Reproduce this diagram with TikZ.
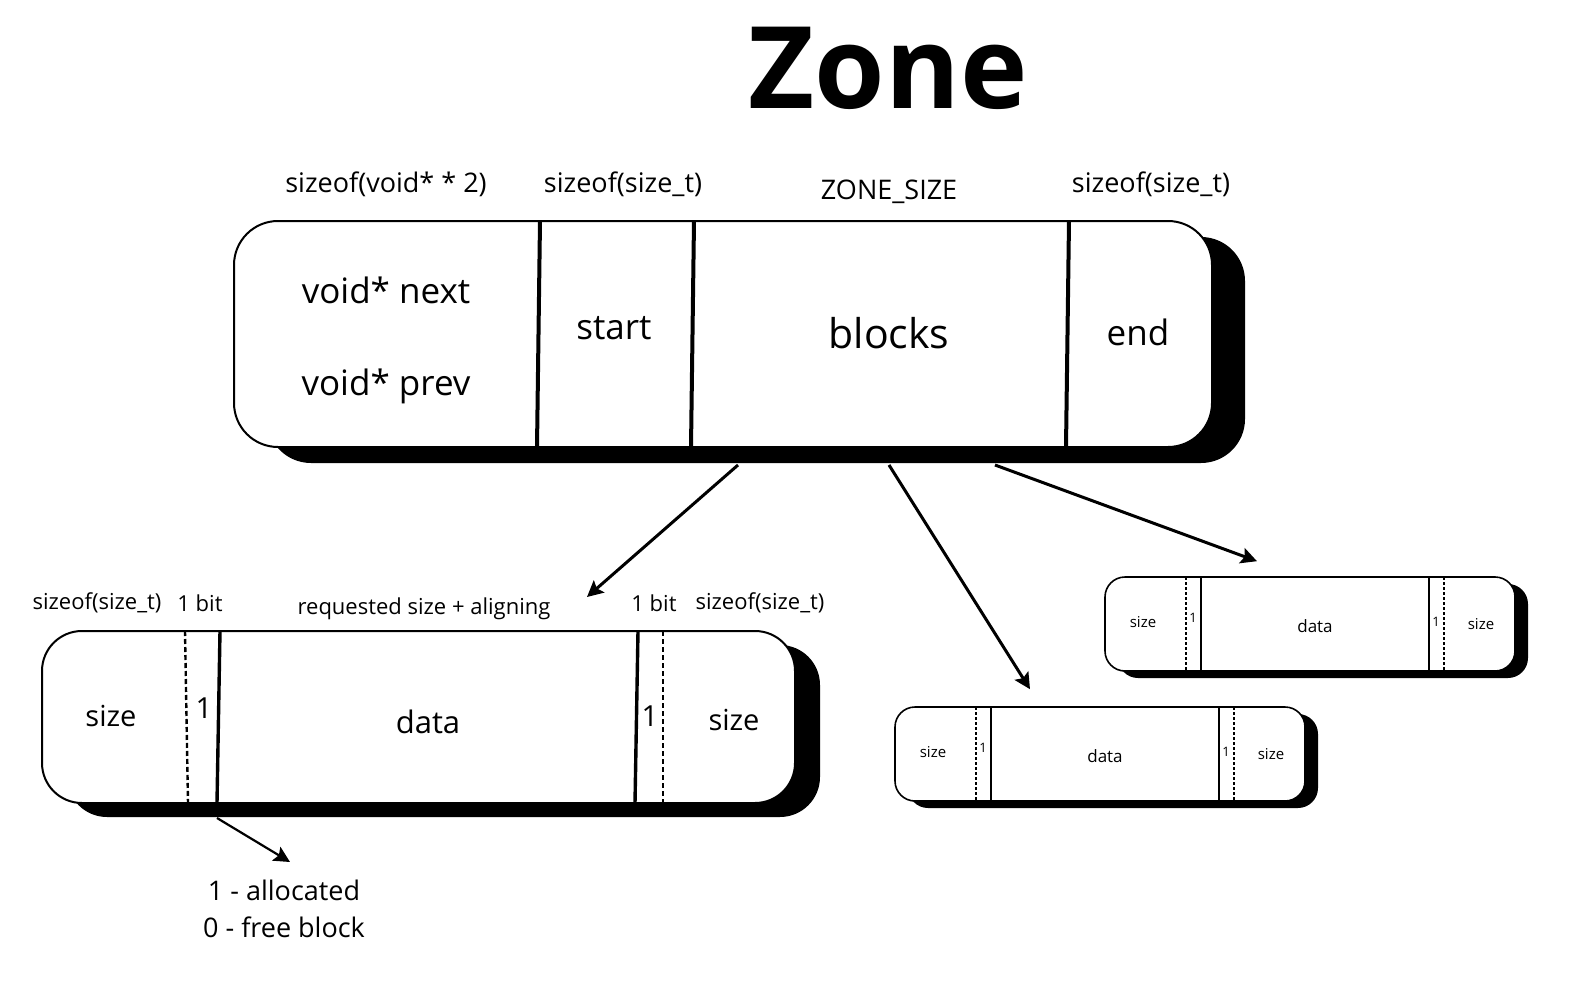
\documentclass[tikz,border=0pt]{standalone}
\usepackage{fontspec}
\setmainfont{Open Sans}
\usepackage{tikz}
\usetikzlibrary{calc}
\usetikzlibrary{arrows.meta}
\usetikzlibrary{shadows}
\newcommand{\fsz}[1]{\fontsize{#1}{#1}\selectfont}
\tikzset{
    common/.style={draw, rectangle, fill=white, inner sep=0pt, line width=1pt},
    zonebox/.style={common, rounded corners=22pt, minimum width=489pt, minimum height=113pt,
        drop shadow={shadow xshift=16.5pt, shadow yshift=-8pt, fill=black, opacity=1}},
    bigbox/.style={common, rounded corners=20pt, minimum width=376.5pt, minimum height=86pt,
        drop shadow={shadow xshift=12.5pt, shadow yshift=-7pt, fill=black, opacity=1}},
    minibox/.style={common, line width=0.8pt, rounded corners=10pt, minimum width=205pt, minimum height=47pt,
        drop shadow={shadow xshift=6.5pt, shadow yshift=-3.5pt, fill=black, opacity=1}},
    divider/.style={line width=2pt},
    bitline/.style={line width=1.2pt, dash pattern=on 2.5pt off 1.5pt},
    minidiv/.style={line width=1pt},
    minibit/.style={line width=0.8pt, dash pattern=on 1.5pt off 1pt},
    arr/.style={-{Stealth[length=8pt, width=8pt, inset=1.5pt]}, line width=1.5pt},
    label/.style={inner sep=0pt, font=\fsz{13.5}},
    field/.style={inner sep=0pt, font=\fsz{17.5}},
    blocklabel/.style={inner sep=0pt, font=\fsz{11}},
    blockfield/.style={inner sep=0pt, font=\fsz{14.5}},
    minifield/.style={inner sep=0pt, font=\fsz{7.5}}
}
\begin{document}
\begin{tikzpicture}[x=0.5pt, y=-0.5pt]
    \useasboundingbox (0,0) rectangle (1574,990);

    \node[font=\fsz{57}\bfseries] (title) at (888,68) {Zone};

    % zone header and blocks
    \node[zonebox] (zone) at (723,334) {};
    \draw[divider] (540,221) -- (537,447);
    \draw[divider] (694,221) -- (691,447);
    \draw[divider] (1069,221) -- (1066,447);

    \node[label] (lnext) at (386,184) {sizeof(void* * 2)};
    \node[label] (lstart) at (623,184) {sizeof(size\_t)};
    \node[label] (lblocks) at (889,192) {ZONE\_SIZE};
    \node[label] (lend) at (1151,184) {sizeof(size\_t)};

    \node[field] (next) at (386,290) {void* next};
    \node[field] (prev) at (386,386) {void* prev};
    \node[field] (start) at (614,328) {start};
    \node[field, font=\fsz{20.5}] (blocks) at (889,333) {blocks};
    \node[field] (end) at (1138,332) {end};

    % one block in detail
    \node[bigbox] (bigblk) at (418.5,717) {};
    \draw[bitline] (185,631) -- (188,803);
    \draw[divider, line width=1.7pt] (220,631) -- (217,803);
    \draw[divider, line width=1.7pt] (638,631) -- (635,803);
    \draw[bitline] (663,631) -- (663,803);

    \node[blocklabel] (bsize1) at (97,603) {sizeof(size\_t)};
    \node[blocklabel] (bbit1) at (200,603) {1 bit};
    \node[blocklabel] (bdata) at (424,609) {requested size + aligning};
    \node[blocklabel] (bbit2) at (654,603) {1 bit};
    \node[blocklabel] (bsize2) at (760,603) {sizeof(size\_t)};

    \node[blockfield] (size1) at (111,716) {size};
    \node[blockfield] (flag1) at (204,708) {1};
    \node[blockfield, font=\fsz{15.5}] (data) at (428,722) {data};
    \node[blockfield] (flag2) at (650,716) {1};
    \node[blockfield] (size2) at (734,720) {size};

    \node[label, font=\fontsize{13.5}{18.5}\selectfont, align=center, anchor=north] (note) at (284,880) {1 - allocated\\0 - free block};

    % small blocks
    \foreach \name/\bx/\by in {blkA/1105/577, blkB/895/707} {
        \node[minibox] (\name) at (\bx+205,\by+47) {};
        \draw[minibit] (\bx+81,\by) -- (\bx+81,\by+94);
        \draw[minidiv] (\bx+96,\by) -- (\bx+96,\by+94);
        \draw[minidiv] (\bx+324,\by) -- (\bx+324,\by+94);
        \draw[minibit] (\bx+339,\by) -- (\bx+339,\by+94);
        \node[minifield] (\name-size1) at (\bx+38,\by+45) {size};
        \node[minifield, font=\fsz{6.5}] (\name-flag1) at (\bx+88,\by+41) {1};
        \node[minifield, font=\fsz{8.5}] (\name-data) at (\bx+210,\by+49) {data};
        \node[minifield, font=\fsz{6.5}] (\name-flag2) at (\bx+331,\by+45) {1};
        \node[minifield] (\name-size2) at (\bx+376,\by+47) {size};
    }

    \draw[arr] ([shift={(15,17)}]zone.south) -- ([shift={(168.5,-33)}]bigblk.north);
    \draw[arr] ([shift={(166,17)}]zone.south) -- ([shift={(-70,-17)}]blkB.north);
    \draw[arr] ([shift={(272,17)}]zone.south) -- ([shift={(-53,-15)}]blkA.north);
    \draw[arr, line width=1.1pt] ([shift={(-201.5,14)}]bigblk.south) -- ([shift={(6,-18)}]note.north);
\end{tikzpicture}
\end{document}
